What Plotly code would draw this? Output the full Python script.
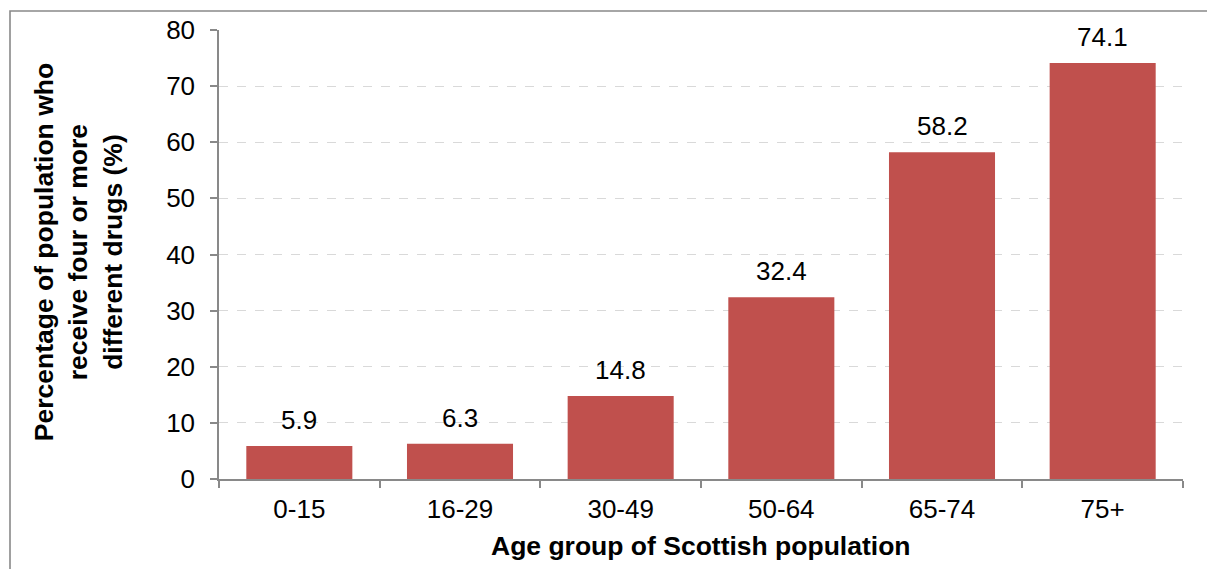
import plotly.graph_objects as go

age_groups = ["0-15", "16-29", "30-49", "50-64", "65-74", "75+"]
pct_four_plus = [5.9, 6.3, 14.8, 32.4, 58.2, 74.1]
y_ticks = [0, 10, 20, 30, 40, 50, 60, 70, 80]

FONT = "Arial, Liberation Sans, sans-serif"
BAR = "#C0504D"
AXIS = "#898989"
FS = 26
FS_TITLE = 26.5

fig = go.Figure()
fig.add_trace(go.Bar(
    x=age_groups,
    y=pct_four_plus,
    width=0.66,
    marker=dict(color=BAR, line=dict(width=0)),
    hoverinfo="x+y",
))

# value labels above each bar
for g, v in zip(age_groups, pct_four_plus):
    fig.add_annotation(
        x=g, y=v, text=f"{v:.1f}", showarrow=False,
        xanchor="center", yanchor="bottom", yshift=9,
        font=dict(family=FONT, size=FS, color="black"),
    )

# axis titles
fig.add_annotation(
    xref="paper", yref="paper", x=(78 - 219) / 964, y=0.505,
    text="<b>Percentage of population who<br>receive four or more<br>different drugs (%)</b>",
    textangle=-90, showarrow=False, xanchor="center", yanchor="middle",
    font=dict(family=FONT, size=FS_TITLE, color="black"),
)
fig.add_annotation(
    xref="paper", yref="paper", x=0.5, y=(479 - 546) / 449,
    text="<b>Age group of Scottish population</b>",
    showarrow=False, xanchor="center", yanchor="middle",
    font=dict(family=FONT, size=FS_TITLE, color="black"),
)

# chart border
fig.add_shape(
    type="rect", xref="paper", yref="paper",
    x0=(10 - 219) / 964, x1=1.2, y0=-0.5, y1=(479 - 11) / 449,
    line=dict(color=AXIS, width=1.6), fillcolor="rgba(0,0,0,0)", layer="below",
)

fig.update_layout(
    width=1207, height=569,
    margin=dict(l=219, r=24, t=30, b=90),
    paper_bgcolor="white", plot_bgcolor="white",
    showlegend=False,
    font=dict(family=FONT, size=FS, color="black"),
)
fig.update_xaxes(
    type="category",
    showline=True, linecolor=AXIS, linewidth=1.5,
    ticks="outside", tickson="boundaries", ticklen=7, tickcolor=AXIS, tickwidth=1.5,
    ticklabelstandoff=6,
    showgrid=False, zeroline=False,
    tickfont=dict(family=FONT, size=FS, color="black"),
)
fig.update_yaxes(
    range=[0, 80], tickvals=y_ticks,
    showline=True, linecolor=AXIS, linewidth=1.5,
    ticks="outside", ticklen=7, tickcolor=AXIS, tickwidth=1.5,
    ticklabelstandoff=10,
    showgrid=True, gridcolor="#D9D9D9", griddash="dash", gridwidth=1,
    zeroline=False,
    tickfont=dict(family=FONT, size=FS, color="black"),
)

fig.write_html("out.html")
